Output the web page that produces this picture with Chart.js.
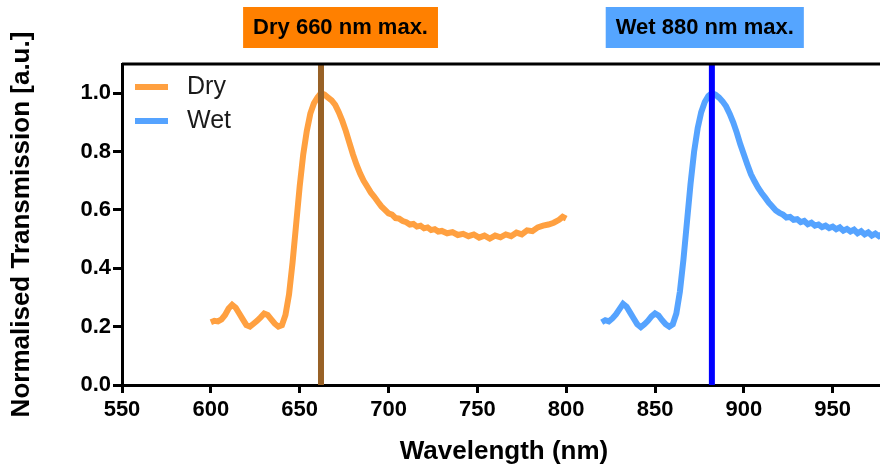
<!DOCTYPE html>
<html>
<head>
<meta charset="utf-8">
<script src="https://cdn.jsdelivr.net/npm/chart.js@4"></script>
<style>
  html, body { margin: 0; padding: 0; background: #fff; overflow: hidden; }
  #wrap { width: 900px; height: 467px; }
</style>
</head>
<body>
<div id="wrap"><canvas id="ch" width="900" height="467"></canvas></div>
<script>
// Dry spectrum (nm, normalised)
const dryX = [600,602,604,606,608,610,612,614,616,618,620,622,624,626,628,630,632,634,636,638,640,642,644,646,648,650,652,654,656,658,660,662,664,666,668,670,672,674,676,678,680,682,684,686,688,690,692,694,696,698,700,702,704,706,708,710,712,714,716,718,720,722,724,726,728,730,733,736,739,742,745,748,751,754,757,760,763,766,769,772,775,778,781,784,787,790,793,796,798,800];
const dryY = [.215,.22,.218,.225,.24,.262,.275,.265,.245,.225,.205,.2,.21,.22,.232,.245,.24,.225,.21,.2,.205,.24,.31,.42,.55,.68,.79,.87,.93,.965,.985,1.0,.995,.985,.975,.96,.935,.905,.87,.83,.79,.755,.725,.7,.68,.66,.645,.628,.612,.6,.588,.584,.572,.57,.562,.558,.55,.552,.543,.546,.537,.54,.531,.534,.526,.528,.52,.524,.514,.518,.51,.516,.505,.512,.502,.512,.506,.516,.51,.522,.516,.53,.527,.54,.546,.55,.556,.566,.576,.57,.595];

// Wet spectrum
const wetX = [820,822,824,826,828,830,832,834,836,838,840,842,844,846,848,850,852,854,856,858,860,862,864,866,868,870,872,874,876,878,880,882,884,886,888,890,892,894,896,898,900,902,904,906,908,910,912,914,916,918,920,922,924,926,928,930,932,934,936,938,940,942,944,946,948,950,952,954,956,958,960,962,964,966,968,970,972,974,976,978,980];
const wetY = [.215,.222,.218,.228,.242,.26,.278,.268,.248,.228,.208,.198,.208,.22,.235,.245,.238,.222,.208,.2,.208,.245,.32,.43,.56,.69,.8,.88,.935,.97,.99,1.0,.995,.985,.972,.955,.93,.9,.865,.825,.79,.755,.722,.698,.676,.658,.642,.625,.612,.598,.59,.584,.574,.576,.566,.568,.558,.562,.551,.556,.546,.55,.541,.546,.538,.543,.534,.54,.529,.535,.526,.532,.52,.527,.516,.523,.512,.519,.51,.518,.512];

const seriesNames = ['Dry', 'Wet'];
const maxima = [662, 882];
const maxLabels = ['Dry 660 nm max.', 'Wet 880 nm max.'];
const xTicks = [550,600,650,700,750,800,850,900,950];
const yTicks = [0.0,0.2,0.4,0.6,0.8,1.0];

const FONT = '"Liberation Sans", Arial, Helvetica, sans-serif';
const lineCols = ['#FFA040', '#55A3FF'];
const markCols = ['#986126', '#0000FF'];
const boxCols = ['#FF8000', '#55A5FF'];
const boxCentreNm = [673, 878];

const pts = (xs, ys) => xs.map((x, i) => ({ x: x, y: ys[i] }));

const datasets = [
  { label: seriesNames[0], data: pts(dryX, dryY), borderColor: lineCols[0], borderWidth: 6, pointRadius: 0, tension: 0, order: 2 },
  { label: seriesNames[1], data: pts(wetX, wetY), borderColor: lineCols[1], borderWidth: 6, pointRadius: 0, tension: 0, order: 2 }
];
maxima.forEach((m, i) => datasets.push({
  label: maxLabels[i], data: [{ x: m, y: 0 }, { x: m, y: 1.1 }],
  borderColor: markCols[i], borderWidth: 6, pointRadius: 0, order: 0
}));

const decor = {
  id: 'decor',
  afterDraw(c) {
    const ctx = c.ctx, a = c.chartArea, xs = c.scales.x;
    ctx.save();
    // frame top + right
    ctx.strokeStyle = '#000'; ctx.lineWidth = 3;
    ctx.beginPath(); ctx.moveTo(a.left, a.top); ctx.lineTo(a.right, a.top); ctx.lineTo(a.right, a.bottom); ctx.stroke();
    // legend
    ctx.font = '25px ' + FONT; ctx.textBaseline = 'middle'; ctx.fillStyle = '#1a1a1a';
    seriesNames.forEach((n, i) => {
      const y = 87 + i * 34;
      ctx.strokeStyle = lineCols[i]; ctx.lineWidth = 6;
      ctx.beginPath(); ctx.moveTo(135, y); ctx.lineTo(168, y); ctx.stroke();
      ctx.fillText(n, 187, y);
    });
    // max labels
    ctx.font = 'bold 22px ' + FONT; ctx.textAlign = 'center';
    maxLabels.forEach((t, i) => {
      const cx = xs.getPixelForValue(boxCentreNm[i]);
      const w = ctx.measureText(t).width + 20;
      ctx.fillStyle = boxCols[i];
      ctx.fillRect(cx - w / 2, 7, w, 41);
      ctx.fillStyle = '#000';
      ctx.fillText(t, cx, 28);
    });
    ctx.restore();
  }
};

new Chart(document.getElementById('ch'), {
  type: 'line',
  data: { datasets: datasets },
  options: {
    responsive: false, devicePixelRatio: 1, animation: false,
    layout: { padding: { top: 64, right: 14, left: 0, bottom: 0 } },
    plugins: { legend: { display: false }, tooltip: { enabled: false } },
    scales: {
      x: {
        type: 'linear', min: 550, max: 980,
        afterFit: s => { s.height = 82; },
        afterBuildTicks: s => { s.ticks = xTicks.map(v => ({ value: v })); },
        ticks: { color: '#000', font: { family: FONT, size: 22, weight: 'bold' }, padding: 4, callback: v => v },
        grid: { drawOnChartArea: false, tickLength: 8, tickWidth: 3, tickColor: '#000' },
        border: { color: '#000', width: 3 },
        title: { display: true, text: 'Wavelength (nm)', color: '#000', font: { family: FONT, size: 26, weight: 'bold', lineHeight: 1.2 }, padding: { top: 0, bottom: 0 } }
      },
      y: {
        min: 0, max: 1.1,
        afterFit: s => { s.width = 122; },
        afterBuildTicks: s => { s.ticks = yTicks.map(v => ({ value: v })); },
        ticks: { color: '#000', font: { family: FONT, size: 22, weight: 'bold' }, padding: 2, callback: v => v.toFixed(1) },
        grid: { drawOnChartArea: false, tickLength: 9, tickWidth: 3, tickColor: '#000' },
        border: { color: '#000', width: 3 },
        title: { display: true, text: 'Normalised Transmission [a.u.]', color: '#000', font: { family: FONT, size: 26, weight: 'bold', lineHeight: 1.2 }, padding: { top: 6, bottom: 0 } }
      }
    }
  },
  plugins: [decor]
});
</script>
</body>
</html>
